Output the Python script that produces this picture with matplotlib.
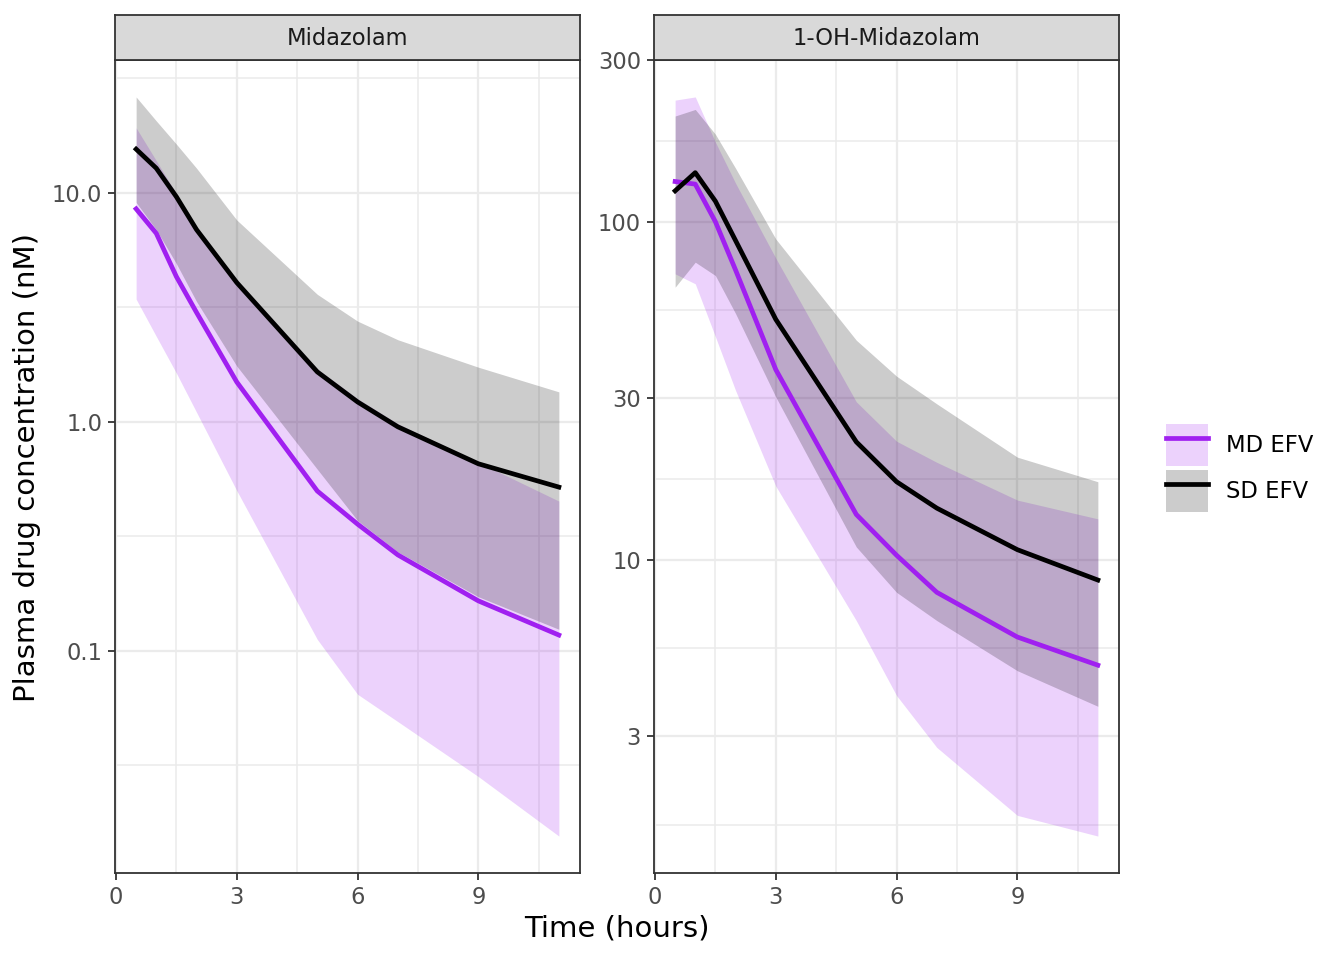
import matplotlib
matplotlib.use("Agg")
import matplotlib.pyplot as plt
import numpy as np
from matplotlib.lines import Line2D
from matplotlib.patches import Patch
from matplotlib.ticker import FixedLocator, FixedFormatter, NullFormatter

# sampling times (hours)
time_h = [0.5, 1, 1.5, 2, 3, 5, 6, 7, 9, 11]

panels = ["Midazolam", "1-OH-Midazolam"]
groups = ["MD EFV", "SD EFV"]

# Midazolam, nM (median, upper, lower)
mdz_md_med = [8.5, 6.65, 4.3, 3.0, 1.49, 0.498, 0.357, 0.262, 0.165, 0.117]
mdz_md_hi = [19.2, 13.8, 9.9, 7.1, 4.15, 1.7, 1.26, 0.98, 0.665, 0.45]
mdz_md_lo = [3.43, 2.36, 1.63, 1.1, 0.5, 0.112, 0.0645, 0.049, 0.0282, 0.0155]
mdz_sd_med = [15.5, 12.8, 9.6, 6.9, 4.05, 1.65, 1.22, 0.95, 0.655, 0.518]
mdz_sd_hi = [26.2, 20.6, 16.3, 12.8, 7.6, 3.6, 2.75, 2.28, 1.73, 1.35]
mdz_sd_lo = [9.07, 6.9, 4.9, 3.35, 1.75, 0.62, 0.37, 0.27, 0.172, 0.124]

# 1-OH-Midazolam, nM
oh_md_med = [131.5, 129.2, 100, 72, 36.5, 13.6, 10.3, 8.0, 5.9, 4.87]
oh_md_hi = [229, 234, 172, 130, 78, 29.3, 22.4, 19.4, 15.0, 13.2]
oh_md_lo = [70.1, 65.5, 45.7, 31.7, 16.5, 6.6, 3.96, 2.78, 1.75, 1.52]
oh_sd_med = [123.4, 139.7, 115, 88, 51.4, 22.3, 17.0, 14.2, 10.7, 8.7]
oh_sd_hi = [205.5, 214.9, 181.5, 144, 88.9, 44.6, 34.9, 28.9, 20.1, 17.0]
oh_sd_lo = [64.0, 75.9, 69.3, 53.5, 30.3, 10.9, 8.0, 6.6, 4.69, 3.68]

y_major = [[0.1, 1, 10], [3, 10, 30, 100, 300]]
y_labels = [["0.1", "1.0", "10.0"], ["3", "10", "30", "100", "300"]]
x_major = [0, 3, 6, 9]
x_minor = [1.5, 4.5, 7.5, 10.5]

PURPLE = "#A020F0"
BLACK = "#000000"
GRID = "#EBEBEB"
DARK = "#333333"
FS = 16.3
FS_TITLE = 21.0

W, H = 1344, 960
fig = plt.figure(figsize=(W / 100, H / 100), dpi=100)


def box(x0, y0, x1, y1):
    # pixel box (top-left origin) -> figure fraction rect
    return [x0 / W, 1 - y1 / H, (x1 - x0) / W, (y1 - y0) / H]


data = [
    (mdz_md_med, mdz_md_lo, mdz_md_hi, mdz_sd_med, mdz_sd_lo, mdz_sd_hi),
    (oh_md_med, oh_md_lo, oh_md_hi, oh_sd_med, oh_sd_lo, oh_sd_hi),
]
lefts = [115, 654]

for i, (md_med, md_lo, md_hi, sd_med, sd_lo, sd_hi) in enumerate(data):
    x0 = lefts[i]
    ax = fig.add_axes(box(x0, 60, x0 + 465, 873))
    ax.fill_between(time_h, md_lo, md_hi, color=PURPLE, alpha=0.2, lw=0)
    ax.fill_between(time_h, sd_lo, sd_hi, color=BLACK, alpha=0.2, lw=0)
    ax.plot(time_h, md_med, color=PURPLE, lw=3.4, solid_joinstyle="round")
    ax.plot(time_h, sd_med, color=BLACK, lw=3.4, solid_joinstyle="round")

    ax.set_yscale("log")
    allv = np.log10(np.concatenate([md_lo, md_hi, sd_lo, sd_hi]))
    lo, hi = allv.min(), allv.max()
    pad = 0.05 * (hi - lo)
    ax.set_ylim(10 ** (lo - pad), 10 ** (hi + pad))
    tpad = 0.05 * (max(time_h) - min(time_h))
    ax.set_xlim(min(time_h) - tpad, max(time_h) + tpad)

    maj = y_major[i]
    mids = list(np.sqrt(np.array(maj[:-1]) * np.array(maj[1:])))
    mids = [maj[0] / np.sqrt(maj[1] / maj[0])] + mids + [maj[-1] * np.sqrt(maj[-1] / maj[-2])]
    ax.yaxis.set_major_locator(FixedLocator(maj))
    ax.yaxis.set_major_formatter(FixedFormatter(y_labels[i]))
    ax.yaxis.set_minor_locator(FixedLocator(mids))
    ax.yaxis.set_minor_formatter(NullFormatter())
    ax.xaxis.set_major_locator(FixedLocator(x_major))
    ax.xaxis.set_minor_locator(FixedLocator(x_minor))

    ax.set_axisbelow(True)
    ax.grid(which="major", color=GRID, lw=1.6)
    ax.grid(which="minor", color=GRID, lw=1.1)
    ax.tick_params(which="major", length=5.3, width=1.3, color=DARK,
                   labelsize=FS, labelcolor="#4D4D4D", pad=4.0)
    ax.tick_params(which="minor", length=0)
    for s in ax.spines.values():
        s.set_color(DARK)
        s.set_linewidth(1.3)

    # facet strip
    sax = fig.add_axes(box(x0, 15, x0 + 465, 60))
    sax.set_xticks([])
    sax.set_yticks([])
    sax.set_facecolor("#D9D9D9")
    for s in sax.spines.values():
        s.set_color(DARK)
        s.set_linewidth(1.3)
    sax.text(0.5, 0.47, panels[i], ha="center", va="center",
             fontsize=FS, color="#1A1A1A", transform=sax.transAxes)

handles = [
    (Patch(facecolor=PURPLE, alpha=0.2, edgecolor="none"),
     Line2D([], [], color=PURPLE, lw=3.4)),
    (Patch(facecolor=BLACK, alpha=0.2, edgecolor="none"),
     Line2D([], [], color=BLACK, lw=3.4)),
]
fig.legend(handles, groups, loc="center left",
           bbox_to_anchor=(1166 / W, 1 - 468 / H), frameon=False,
           borderpad=0, borderaxespad=0, handlelength=1.855, handleheight=2.48,
           handletextpad=0.8, labelspacing=0.17, fontsize=FS)

fig.text(617 / W, 1 - 929 / H, "Time (hours)", ha="center", va="center",
         fontsize=FS_TITLE)
fig.text(27 / W, 1 - 468 / H, "Plasma drug concentration (nM)", ha="center",
         va="center", rotation=90, fontsize=FS_TITLE)

fig.savefig("out.png", dpi=100)
